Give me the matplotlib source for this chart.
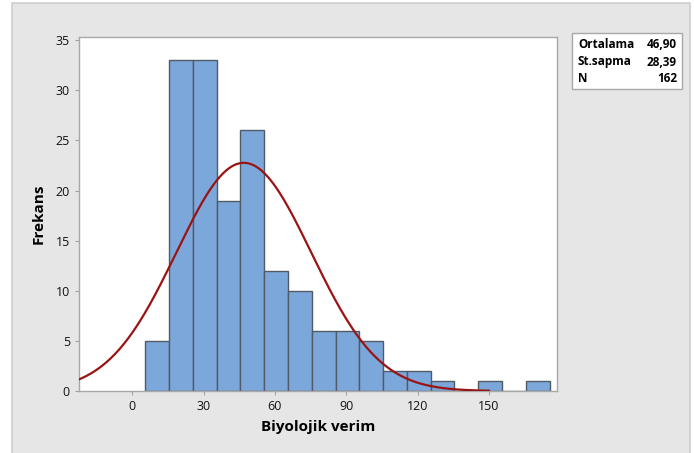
#
# Histogram of Biyolojik verim with fitted normal curve (Minitab style)
#
import numpy as np
import matplotlib.pyplot as plt
from matplotlib.patches import Rectangle

# histogram data
bin_start = 5.5
bin_width = 10
counts = [5, 33, 33, 19, 26, 12, 10, 6, 6, 5, 2, 2, 1, 0, 1, 0, 1]

# summary statistics
mean = 46.90
sd = 28.39
n = 162
stat_labels = ['Ortalama', 'St.sapma', 'N']
stat_values = ['46,90', '28,39', '162']

x_ticks = [0, 30, 60, 90, 120, 150]
y_ticks = [0, 5, 10, 15, 20, 25, 30, 35]

plt.rcParams['font.family'] = ['Open Sans', 'DejaVu Sans']

fig = plt.figure(figsize=(6.94, 4.53), dpi=100)
fig.patch.set_facecolor('white')

# grey panel behind everything
fig.patches.append(Rectangle((12 / 694, -0.01), 678 / 694, 1 - 3 / 453 + 0.01,
                             transform=fig.transFigure, facecolor='#e6e6e6',
                             edgecolor='#cfcfcf', linewidth=1.2, zorder=-5))

ax = fig.add_axes([79 / 694, 62 / 453, (556.7 - 79) / 694, (391 - 36.7) / 453])
ax.set_zorder(2)
ax.set_facecolor('white')

lefts = bin_start + bin_width * np.arange(len(counts))
ax.bar(lefts, counts, width=bin_width, align='edge',
       color='#7ba7da', edgecolor='#515b66', linewidth=1.0, zorder=2)

# fitted normal curve
xs = np.linspace(-22.4, 150, 400)
ys = n * bin_width / (sd * np.sqrt(2 * np.pi)) * np.exp(-0.5 * ((xs - mean) / sd) ** 2)
ax.plot(xs, ys, color='#9a1414', linewidth=1.6, zorder=3)

ax.set_xlim(-22.4, 178.5)
ax.set_ylim(0, 35.35)
ax.set_xticks(x_ticks)
ax.set_yticks(y_ticks)

for s in ax.spines.values():
    s.set_color('#a8a8a8')
    s.set_linewidth(1.0)

ax.tick_params(axis='both', colors='#a0a0a0', length=3, width=0.8,
               labelcolor='#111111', labelsize=9)

ax.set_xlabel('Biyolojik verim', fontsize=11, fontweight='bold', labelpad=5)
ax.set_ylabel('Frekans', fontsize=11, fontweight='bold', labelpad=7)

# stats box
fig.patches.append(Rectangle((572 / 694, 1 - 89 / 453), 110 / 694, 56 / 453,
                             transform=fig.transFigure, facecolor='white',
                             edgecolor='#a8a8a8', linewidth=1.0, zorder=1))
for i, (lab, val) in enumerate(zip(stat_labels, stat_values)):
    yy = 1 - (45 + 17 * i) / 453
    fig.text(578 / 694, yy, lab, fontsize=8.5, fontweight='bold', va='center', ha='left', zorder=3)
    fig.text(677 / 694, yy, val, fontsize=8.5, fontweight='bold', va='center', ha='right', zorder=3)

plt.savefig('out.png', dpi=100)
